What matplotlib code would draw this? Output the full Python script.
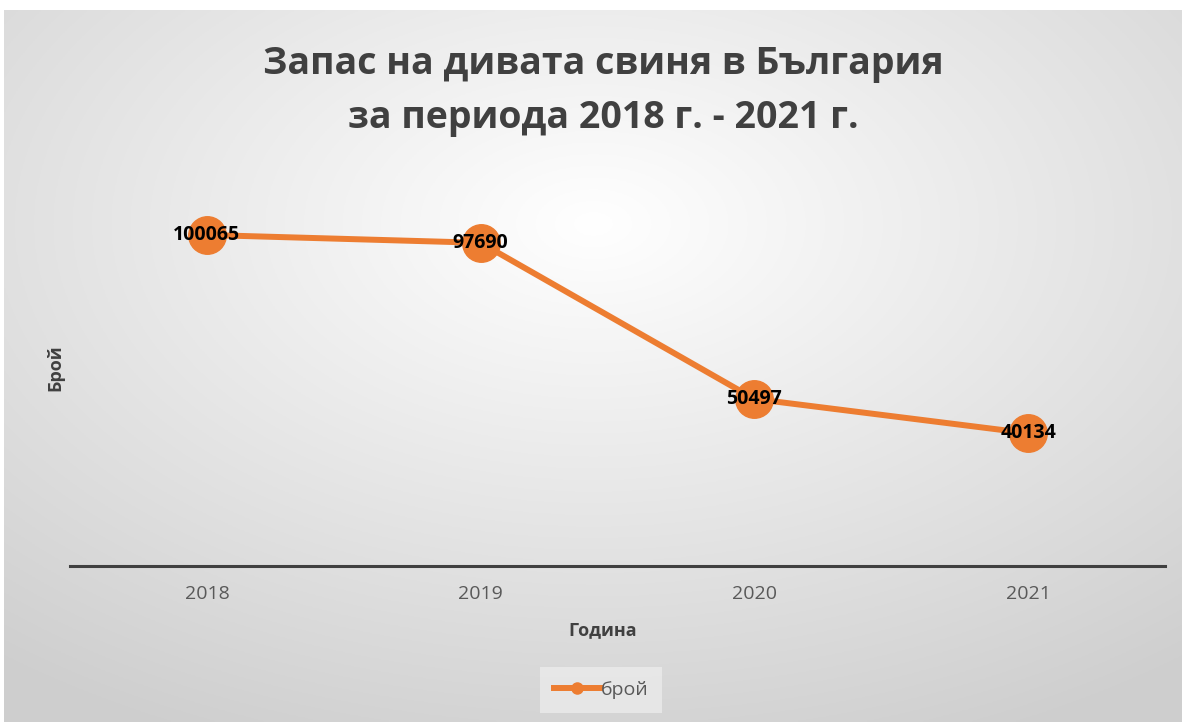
import numpy as np
import matplotlib
matplotlib.use("Agg")
import matplotlib.pyplot as plt
from matplotlib.lines import Line2D

years = ["2018", "2019", "2020", "2021"]
values = [100065, 97690, 50497, 40134]
series_name = "брой"
title = "Запас на дивата свиня в България\nза периода 2018 г. - 2021 г."
xlabel = "Година"
ylabel = "Брой"

plt.rcParams['font.family'] = ['Open Sans', 'DejaVu Sans']

W, H = 1182, 722
fig = plt.figure(figsize=(W/100, H/100), dpi=100)
fig.patch.set_facecolor('white')

# background radial gradient
bg = fig.add_axes([0.003, 0, 0.997, 1 - 10/H])
yy, xx = np.mgrid[-1:1:300j, -1:1:500j]
r = np.sqrt((xx*0.85)**2 + ((yy+0.4)*0.85)**2)
r = np.clip(r / 1.35, 0, 1)
c_in = np.array([1.0, 1.0, 1.0])
c_out = np.array([0.81, 0.81, 0.81])
img = c_in[None, None, :] * (1 - r[..., None]) + c_out[None, None, :] * r[..., None]
bg.imshow(img, aspect='auto', extent=[0, 1, 0, 1], origin='upper')
bg.axis('off')

ax = fig.add_axes([70/W, 1 - 566/H, (1165-70)/W, (566-169)/H])
ax.patch.set_alpha(0)
x = np.arange(len(years))
color = '#ED7D31'
ax.plot(x, values, color=color, lw=4.3, marker='o', markersize=27,
        markerfacecolor=color, markeredgecolor=color, solid_capstyle='round', zorder=3)
for xi, v in zip(x, values):
    ax.text(xi, v, str(v), ha='center', va='center', fontsize=14, fontweight='bold',
            color='black', zorder=4)
ax.set_xlim(-0.5, len(years) - 0.5)
ax.set_ylim(0, 120000)
ax.set_xticks(x)
ax.set_xticklabels(years, fontsize=14, color='#595959')
ax.tick_params(axis='x', length=0, pad=14)
ax.set_yticks([])
for s in ['top', 'right', 'left']:
    ax.spines[s].set_visible(False)
ax.spines['bottom'].set_color('#404040')
ax.spines['bottom'].set_linewidth(2.2)

fig.text(603/W, 1 - 630/H, xlabel, ha='center', va='center', fontsize=13,
         fontweight='bold', color='#404040')
fig.text(55/W, 1 - 368/H, ylabel, ha='center', va='center', fontsize=13,
         fontweight='bold', color='#404040', rotation=90)
fig.text(603/W, 1 - 91/H, title, ha='center', va='center', fontsize=27,
         fontweight='bold', color='#404040', linespacing=1.55)

handle = Line2D([0], [0], color=color, lw=4.3, marker='o', markersize=8,
                markerfacecolor=color, markeredgecolor=color)
leg = fig.legend([handle], [series_name], loc='center', bbox_to_anchor=(601/W, 1 - 690/H),
                 frameon=True, fontsize=14, handlelength=2.4, handletextpad=0.0,
                 borderpad=0.7, borderaxespad=0, fancybox=False)
leg.get_frame().set_facecolor('#EBEBEB')
leg.get_frame().set_edgecolor('none')
for t in leg.get_texts():
    t.set_color('#595959')

fig.savefig('out.png', dpi=100, facecolor=fig.get_facecolor())
